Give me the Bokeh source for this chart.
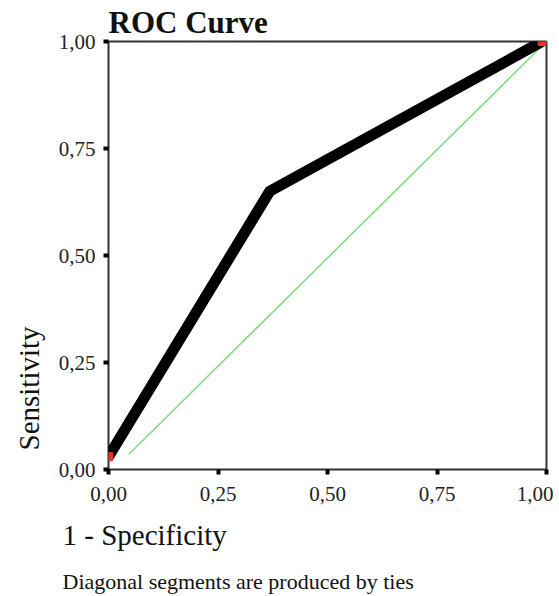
from bokeh.plotting import figure
from bokeh.models import Range1d, Title, FixedTicker
from bokeh.embed import file_html
from bokeh.resources import INLINE

# ---- data ----
fpr = [0.0, 0.368, 0.99]          # 1 - Specificity
tpr = [0.03, 0.65, 1.0]           # Sensitivity
ref_x = [0.046, 1.0]              # reference diagonal
ref_y = [0.035, 1.0]
end_x = [0.0, 0.99]
end_y = [0.03, 1.0]
ticks = [0.0, 0.25, 0.5, 0.75, 1.0]
tick_labels = ["0,00", "0,25", "0,50", "0,75", "1,00"]
title_text = "ROC Curve"
x_label = "1 - Specificity"
y_label = "Sensitivity"
footnote = "Diagonal segments are produced by ties"

SERIF = "Liberation Serif"

p = figure(frame_width=438, frame_height=428, output_backend="svg",
           toolbar_location=None,
           x_range=Range1d(0, 1), y_range=Range1d(0, 1),
           min_border_left=108, min_border_top=41, min_border_right=7,
           min_border_bottom=2)
p.background_fill_color = "white"
p.border_fill_color = "white"
p.outline_line_color = "#333333"
p.outline_line_width = 2
p.xgrid.visible = False
p.ygrid.visible = False

for ax in (p.xaxis[0], p.yaxis[0]):
    ax.ticker = FixedTicker(ticks=ticks)
    ax.major_label_overrides = {t: l for t, l in zip(ticks, tick_labels)}
    ax.axis_line_color = None
    ax.major_tick_in = 0
    ax.major_tick_out = 5
    ax.major_tick_line_width = 4
    ax.major_tick_line_color = "black"
    ax.minor_tick_line_color = None
    ax.major_label_text_font = SERIF
    ax.major_label_text_font_size = "21px"
    ax.major_label_text_color = "#222222"
p.xaxis[0].major_label_standoff = 12
p.yaxis[0].major_label_standoff = 8

# reference line
p.line(ref_x, ref_y, line_color="#7ddc7d", line_width=1.5)
# ROC curve
p.line(fpr, tpr, line_color="black", line_width=11, line_join="miter")
p.scatter(end_x, end_y, marker="square", size=8, color="#e8302c")

# texts
p.title.text = title_text
p.title.text_font = SERIF
p.title.text_font_size = "31px"
p.title.text_font_style = "bold"
p.title.text_color = "#111111"
p.title.align = "left"
p.title.standoff = 4

p.add_layout(Title(text=x_label, text_font=SERIF, text_font_size="29px",
                   text_font_style="normal", text_color="#111111",
                   align="left", offset=-46, standoff=26), "below")
p.add_layout(Title(text=footnote, text_font=SERIF, text_font_size="22px",
                   text_font_style="normal", text_color="#111111",
                   align="left", offset=-46, standoff=6), "below")
p.add_layout(Title(text=y_label, text_font=SERIF, text_font_size="29px",
                   text_font_style="normal", text_color="#111111",
                   align="left", offset=19, standoff=21), "left")

open("out.html", "w").write(file_html(p, INLINE))
